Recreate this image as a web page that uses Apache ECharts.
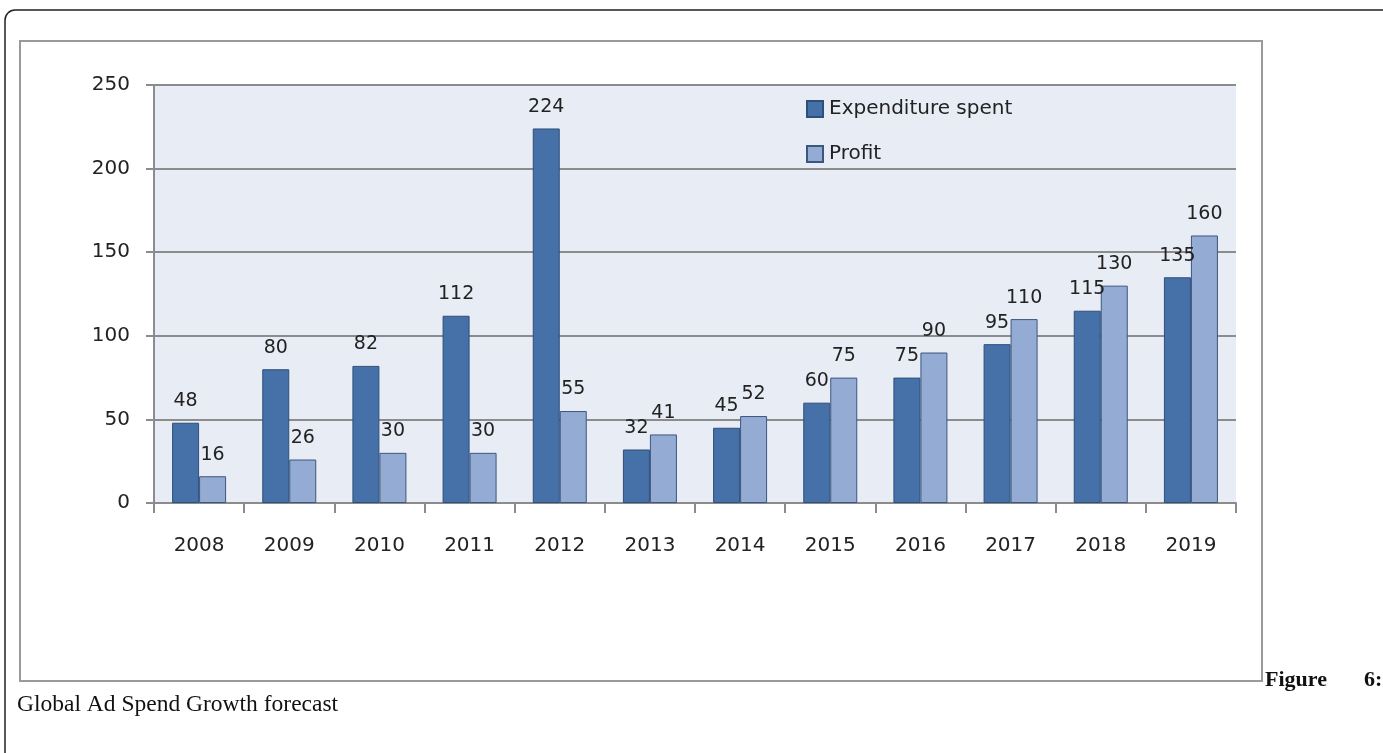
<!DOCTYPE html>
<html>
<head>
<meta charset="utf-8">
<script src="https://cdn.jsdelivr.net/npm/echarts@6/dist/echarts.min.js"></script>
<style>
  html, body { margin: 0; padding: 0; background: #fff; }
  #chart { width: 1383px; height: 753px; }
</style>
</head>
<body>
<div id="chart"></div>
<script>
// data
const years = ['2008', '2009', '2010', '2011', '2012', '2013', '2014', '2015', '2016', '2017', '2018', '2019'];
const expenditure = [48, 80, 82, 112, 224, 32, 45, 60, 75, 95, 115, 135];
const profit = [16, 26, 30, 30, 55, 41, 52, 75, 90, 110, 130, 160];

const axisGray = '#8c8c8c';
const labelFont = 'DejaVu Sans';

let chart = echarts.init(document.getElementById('chart'));

function barLabel() {
  return {
    show: true,
    position: 'top',
    distance: 12,
    color: '#222',
    fontFamily: labelFont,
    fontSize: 19
  };
}

chart.setOption({
  animation: false,
  backgroundColor: '#fff',
  graphic: [
    // outer page frame
    {
      type: 'rect', z: -20, silent: true,
      shape: { x: 5, y: 10, width: 1420, height: 800, r: 10 },
      style: { fill: '#fff', stroke: '#222', lineWidth: 1.5 }
    },
    // picture frame
    {
      type: 'rect', z: -10, silent: true,
      shape: { x: 20, y: 41, width: 1242, height: 640 },
      style: { fill: '#fff', stroke: '#9a9a9a', lineWidth: 2 }
    },
    {
      type: 'text', left: 1265, top: 669,
      style: { text: 'Figure', fontFamily: 'Liberation Serif', fontWeight: 'bold', fontSize: 22, fill: '#111' }
    },
    {
      type: 'text', left: 1364, top: 669,
      style: { text: '6:', fontFamily: 'Liberation Serif', fontWeight: 'bold', fontSize: 22, fill: '#111' }
    },
    {
      type: 'text', left: 17, top: 693,
      style: { text: 'Global Ad Spend Growth forecast', fontFamily: 'Liberation Serif', fontSize: 23.5, fill: '#111' }
    }
  ],
  legend: {
    orient: 'vertical',
    left: 801,
    top: 94,
    itemGap: 25,
    itemWidth: 16,
    itemHeight: 16,
    icon: 'rect',
    textStyle: { fontFamily: labelFont, fontSize: 20, color: '#222', padding: [0, 0, 0, 1] },
    data: ['Expenditure spent', 'Profit']
  },
  grid: {
    left: 154,
    top: 85,
    right: 147,
    bottom: 250,
    show: true,
    backgroundColor: '#e8ecf4',
    borderWidth: 0
  },
  xAxis: {
    type: 'category',
    data: years,
    axisLine: { show: true, lineStyle: { color: axisGray, width: 2 } },
    axisTick: { show: true, length: 10, lineStyle: { color: axisGray, width: 2 } },
    axisLabel: { margin: 33, fontFamily: labelFont, fontSize: 20, color: '#222' }
  },
  yAxis: {
    type: 'value',
    min: 0,
    max: 250,
    interval: 50,
    axisLine: { show: true, lineStyle: { color: axisGray, width: 2 } },
    axisTick: { show: true, length: 8, lineStyle: { color: axisGray, width: 2 } },
    axisLabel: { margin: 24, fontFamily: labelFont, fontSize: 20, color: '#222' },
    splitLine: { show: true, lineStyle: { color: axisGray, width: 2 } }
  },
  series: [
    {
      name: 'Expenditure spent',
      type: 'bar',
      data: expenditure,
      barWidth: 27,
      barGap: '0%',
      itemStyle: { color: '#4570a8', borderColor: '#2f4f7a', borderWidth: 1 },
      label: barLabel()
    },
    {
      name: 'Profit',
      type: 'bar',
      data: profit,
      barWidth: 27,
      barGap: '0%',
      itemStyle: { color: '#94abd4', borderColor: '#3c5680', borderWidth: 1 },
      label: barLabel()
    }
  ]
});
</script>
</body>
</html>
